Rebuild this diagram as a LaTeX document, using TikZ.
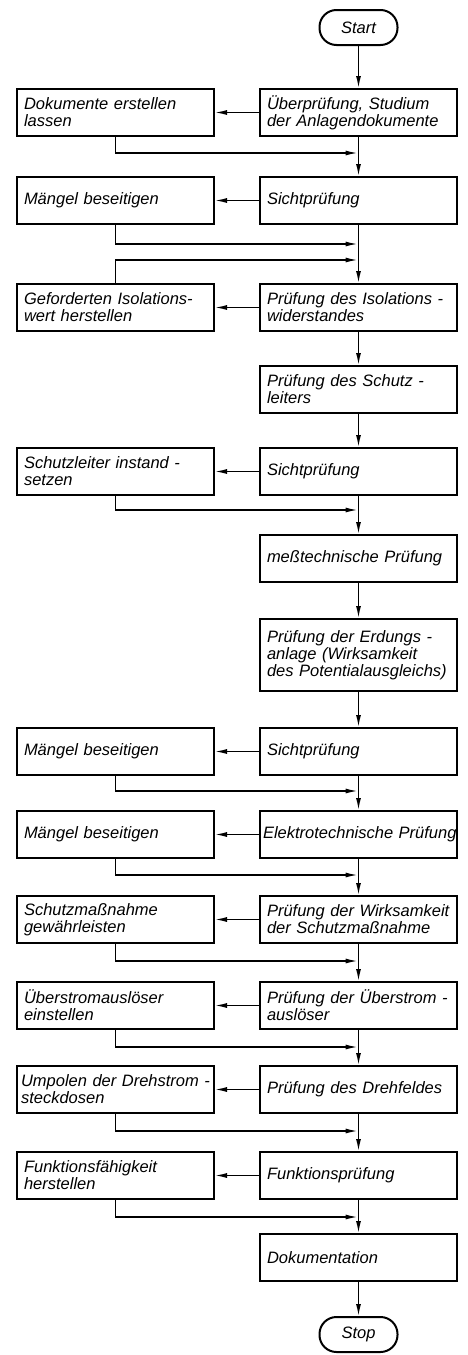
\documentclass[tikz,border=0pt]{standalone}
\usepackage{fontspec}
\setmainfont{Liberation Sans}
\usetikzlibrary{positioning,arrows.meta}

\begin{document}
\begin{tikzpicture}
      \tikzset{
        node distance=40pt and 46pt,
        >={Latex[length=13pt,width=5pt]},
        every node/.style={font=\itshape\fontsize{16.5}{17}\selectfont},
        box/.style={rectangle,draw,line width=2pt,outer sep=0pt,minimum width=197pt,minimum height=47pt,
          text width=183pt,inner xsep=7pt,align=left},
        terminal/.style={rectangle,draw,line width=2pt,outer sep=0pt,rounded corners=17pt,
          minimum width=78pt,minimum height=35pt},
        elbow/.style={to path={|- (\tikztotarget)}},
        line/.style={line width=1.7pt,every edge/.append style={->}}
      }
      \useasboundingbox (0,0) rectangle (468pt,-1355pt);

      % Pruefschritte
      \node[terminal] (start) at (358.5pt,-27.5pt) {Start};
      \node[box,below=44pt of start] (p1) {Überprüfung, Studium\\der Anlagendokumente};
      \node[box,below=41pt of p1] (p2) {Sichtprüfung};
      \node[box,below=60pt of p2] (p3) {Prüfung des Isolations -\\widerstandes};
      \node[box,below=35pt of p3] (p4) {Prüfung des Schutz -\\leiters};
      \node[box,below=35pt of p4] (p5) {Sichtprüfung};
      \node[box,below=40pt of p5] (p6) {meßtechnische Prüfung};
      \node[box,below=37pt of p6,minimum height=72pt] (p7) {Prüfung der Erdungs -\\anlage (Wirksamkeit\\des Potentialausgleichs)};
      \node[box,below=37pt of p7] (p8) {Sichtprüfung};
      \node[box,below=36pt of p8,inner xsep=3pt,text width=191pt] (p9) {\mbox{Elektrotechnische Prüfung}};
      \node[box,below=38pt of p9] (p10) {Prüfung der Wirksamkeit\\der Schutzmaßnahme};
      \node[box,below=39pt of p10] (p11) {Prüfung der Überstrom -\\auslöser};
      \node[box,below=37pt of p11] (p12) {Prüfung des Drehfeldes};
      \node[box,below=39pt of p12] (p13) {Funktionsprüfung};
      \node[box,below=35pt of p13] (p14) {Dokumentation};
      \node[terminal,below=36pt of p14] (stop) {Stop};

      % Abhilfen
      \node[box,left=46pt of p1] (a1) {Dokumente erstellen\\lassen};
      \node[box,left=46pt of p2] (a2) {Mängel beseitigen};
      \node[box,left=46pt of p3] (a3) {Geforderten Isolations-\\wert herstellen};
      \node[box,left=46pt of p5] (a5) {Schutzleiter instand -\\setzen};
      \node[box,left=46pt of p8] (a8) {Mängel beseitigen};
      \node[box,left=46pt of p9] (a9) {Mängel beseitigen};
      \node[box,left=46pt of p10] (a10) {Schutzmaßnahme\\gewährleisten};
      \node[box,left=46pt of p11] (a11) {Überstromauslöser\\einstellen};
      \node[box,left=46pt of p12,inner xsep=4pt,text width=189pt] (a12) {Umpolen der Drehstrom~-\\steckdosen};
      \node[box,left=46pt of p13] (a13) {Funktionsfähigkeit\\herstellen};

      % Einmuendungen
      \coordinate[below=17pt of p1] (j1);
      \coordinate[below=20pt of p2] (j2);
      \coordinate[below=36pt of p2] (j3);
      \coordinate[below=15pt of p5] (j5);
      \coordinate[below=16pt of p8] (j8);
      \coordinate[below=17pt of p9] (j9);
      \coordinate[below=18pt of p10] (j10);
      \coordinate[below=18pt of p11] (j11);
      \coordinate[below=18pt of p12] (j12);
      \coordinate[below=18pt of p13] (j13);

      \draw[line] (start) edge (p1)
            (p1) edge (p2)
            (p2) edge (p3)
            (p3) edge (p4)
            (p4) edge (p5)
            (p5) edge (p6)
            (p6) edge (p7)
            (p7) edge (p8)
            (p8) edge (p9)
            (p9) edge (p10)
            (p10) edge (p11)
            (p11) edge (p12)
            (p12) edge (p13)
            (p13) edge (p14)
            (p14) edge (stop);

      \draw[line] (p1) edge (a1)
            (p2) edge (a2)
            (p3) edge (a3)
            (p5) edge (a5)
            (p8) edge (a8)
            (p9) edge (a9)
            (p10) edge (a10)
            (p11) edge (a11)
            (p12) edge (a12)
            (p13) edge (a13);

      \draw[line] (a1.south) edge[elbow] (j1)
            (a2.south) edge[elbow] (j2)
            (a3.north) edge[elbow] (j3)
            (a5.south) edge[elbow] (j5)
            (a8.south) edge[elbow] (j8)
            (a9.south) edge[elbow] (j9)
            (a10.south) edge[elbow] (j10)
            (a11.south) edge[elbow] (j11)
            (a12.south) edge[elbow] (j12)
            (a13.south) edge[elbow] (j13);
    \end{tikzpicture}
\end{document}
